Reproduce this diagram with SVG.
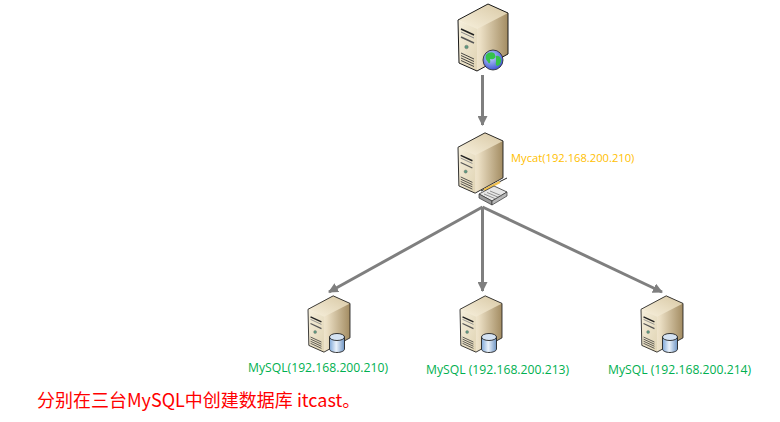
<svg xmlns="http://www.w3.org/2000/svg" xmlns:xlink="http://www.w3.org/1999/xlink" width="780" height="422" viewBox="0 0 780 422">
<style>
.lbl{font-family:"Open Sans","Noto Sans",sans-serif;font-size:12.2px}
.my{fill:#00b050}
.cat{fill:#ffc000;font-size:11.2px}
.note{font-family:"Noto Sans CJK SC","Lato",sans-serif;font-size:18px;fill:#ff0000}
.conn{stroke:#7f7f7f;stroke-width:3;fill:none;marker-end:url(#arr)}
.edge{stroke:#1a1a1a;stroke-width:1;stroke-linejoin:round}
.slot{stroke:#333;stroke-width:.9;fill:none}
</style>
<defs>
<marker id="arr" markerUnits="userSpaceOnUse" markerWidth="12" markerHeight="10" refX="9" refY="5" orient="auto">
<path d="M0 0L10 5L0 10Z" fill="#7f7f7f"/>
</marker>
<linearGradient id="front" x1="0" y1="0" x2="1" y2="1"><stop offset="0" stop-color="#f6efdc"/><stop offset="1" stop-color="#e0d4b4"/></linearGradient>
<linearGradient id="side" x1="0" y1="0" x2="1" y2="0"><stop offset="0" stop-color="#fffdf6"/><stop offset=".45" stop-color="#ebdfc4"/><stop offset="1" stop-color="#a38c62"/></linearGradient>
<linearGradient id="topf" x1="0" y1="1" x2="1" y2="0"><stop offset="0" stop-color="#f8f1de"/><stop offset="1" stop-color="#d8c8a4"/></linearGradient>
<linearGradient id="cyl" x1="0" y1="0" x2="1" y2="0"><stop offset="0" stop-color="#7fa8d8"/><stop offset=".45" stop-color="#eaf2fb"/><stop offset="1" stop-color="#6f95c4"/></linearGradient>
<radialGradient id="globe" cx=".4" cy=".35" r=".7"><stop offset="0" stop-color="#c4d8ff"/><stop offset="1" stop-color="#3a4fd0"/></radialGradient>
<symbol id="server" viewBox="0 0 50 67" overflow="visible">
<path d="M0 16L30 0L50 9L50 50L19 67L1 59Z" fill="url(#side)"/>
<path d="M0 16L30 0L50 9L19 25Z" fill="url(#topf)"/>
<path d="M0 16L19 25L19 67L1 59Z" fill="url(#front)"/>
<path class="edge" d="M0 16L30 0L50 9L50 50L19 67L1 59Z" fill="none" stroke-width="1.1"/>
<path d="M3 25L16 31" stroke="#222" stroke-width="1.6"/>
<path d="M3 28L16 34" stroke="#888" stroke-width="1"/>
<path d="M3 33L16 39" stroke="#555" stroke-width="1.4"/>
<circle cx="8.500" cy="43" r="1.800" fill="#5f9a80" stroke="#666" stroke-width=".4"/>
<path class="slot" d="M3 49L16 55M3 51.500L16 57.500M3 54L16 60M3 56.500L16 62.500"/>
</symbol>
<symbol id="db" viewBox="0 0 16 20" overflow="visible">
<path d="M.5 4V16C.5 18 4 19.500 8 19.500S15.500 18 15.500 16V4Z" fill="url(#cyl)" stroke="#222" stroke-width=".9"/>
<ellipse cx="8" cy="4" rx="7.500" ry="3.500" fill="#d5e3f3" stroke="#222" stroke-width=".9"/>
</symbol>
</defs>
<g id="connectors">
<path class="conn" d="M482.500 75V125"/>
<path class="conn" d="M482.500 207L329 292"/>
<path class="conn" d="M482.500 207V291"/>
<path class="conn" d="M482.500 207L662 292"/>
</g>
<g id="client">
<use xlink:href="#server" href="#server" x="458" y="4" width="50" height="67"/>
<circle cx="493" cy="60" r="10" fill="url(#globe)" stroke="#222" stroke-width=".8"/>
<path d="M486 55C489 51 495 52 495 55C497 58 493 60 490 59C491 63 489 65 488 62C486 60 485 58 486 55Z" fill="#35c24a"/>
<path d="M496 56C500 55 503 60 500 64C497 68 495 65 496 62Z" fill="#35c24a"/>
</g>
<g id="mycat">
<use xlink:href="#server" href="#server" x="458" y="131" width="45" height="64"/>
<path d="M481 191L507 178" stroke="#222" stroke-width="1"/>
<path d="M484 190L500 182" stroke="#f2c14e" stroke-width="2.500"/>
<path d="M479 194L494 186L507 192L492 201Z" fill="#e6e6e6" stroke="#333" stroke-width=".8"/>
<path d="M479 194V198L492 205V201Z" fill="#9a9a9a" stroke="#333" stroke-width=".7"/>
<path d="M492 205L507 196V192L492 201Z" fill="#b8b8b8" stroke="#333" stroke-width=".7"/>
<path d="M484 194L496 199M487 192.500L499 197.500M490 191L502 196" stroke="#777" stroke-width=".8"/>
<text class="lbl cat" x="511" y="162">Mycat(192.168.200.210)</text>
</g>
<g id="mysql1">
<use xlink:href="#server" href="#server" x="308" y="295" width="42" height="58"/>
<use xlink:href="#db" href="#db" x="329" y="333" width="16" height="20"/>
<text class="lbl my" x="248" y="372">MySQL(192.168.200.210)</text>
</g>
<g id="mysql2">
<use xlink:href="#server" href="#server" x="460" y="295" width="42" height="58"/>
<use xlink:href="#db" href="#db" x="481" y="333" width="16" height="20"/>
<text class="lbl my" x="426" y="374">MySQL (192.168.200.213)</text>
</g>
<g id="mysql3">
<use xlink:href="#server" href="#server" x="641" y="295" width="42" height="58"/>
<use xlink:href="#db" href="#db" x="662" y="333" width="16" height="20"/>
<text class="lbl my" x="608" y="374">MySQL (192.168.200.214)</text>
</g>
<text class="note" x="37" y="407">分别在三台MySQL中创建数据库 itcast。</text>
</svg>
